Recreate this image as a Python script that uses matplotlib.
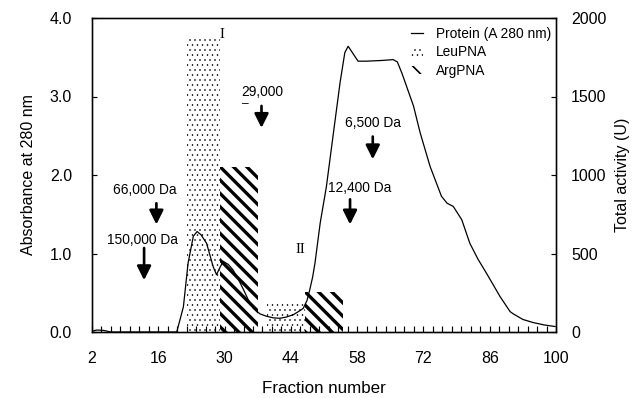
import matplotlib
matplotlib.use("Agg")
import matplotlib as mpl
import matplotlib.pyplot as plt
from matplotlib.lines import Line2D

# protein elution profile (A280)
fraction = [2, 3, 4.5, 6, 19.9, 21.3, 22.3, 23.4, 24.2, 25, 26.2, 27.6, 28.3, 29, 29.7,
            30.8, 31.8, 33, 34, 35, 36.1, 37.5, 38.9, 40.3, 41.7, 43, 44.5, 45.6, 46.6,
            47.4, 48.0, 48.6, 49.1, 50.2, 51.5, 53.0, 54.4, 55.4, 56.1, 57.2, 58.2, 60,
            63.5, 65.6, 66.5, 67.5, 69.9, 71.3, 73.4, 75.8, 77, 78.3, 80.1, 81.8, 83.5,
            85.3, 88.2, 90.3, 91, 93, 95.2, 97.5, 99.8]
absorbance = [0.01, 0.025, 0.02, 0.0, 0.0, 0.32, 0.88, 1.22, 1.28, 1.24, 1.13, 0.83, 0.73,
              0.82, 0.90, 0.86, 0.79, 0.66, 0.54, 0.41, 0.30, 0.23, 0.20, 0.18, 0.175, 0.19,
              0.22, 0.26, 0.30, 0.40, 0.54, 0.70, 0.88, 1.39, 1.85, 2.54, 3.18, 3.56, 3.64,
              3.54, 3.45, 3.45, 3.46, 3.47, 3.44, 3.29, 2.88, 2.54, 2.11, 1.73, 1.64, 1.60,
              1.43, 1.13, 0.93, 0.75, 0.45, 0.26, 0.23, 0.16, 0.12, 0.09, 0.07]

# activity pools: (start fraction, end fraction), total activity (U)
leu_ranges = [(22, 29), (39, 47)]
leu_activity = [1875, 180]
arg_ranges = [(29, 37), (47, 55)]
arg_activity = [1050, 255]

xticks = [2, 16, 30, 44, 58, 72, 86, 100]

# molecular weight markers: label, text pos, arrow x, arrow y from/to (absorbance)
markers = [
    ("150,000 Da", 12.7, 1.17, 13.0, 1.07, 0.66),
    ("66,000 Da", 13.2, 1.81, 15.6, 1.64, 1.37),
    ("29,000", 38.0, 3.06, 37.8, 2.88, 2.60),
    ("6,500 Da", 61.3, 2.66, 61.3, 2.49, 2.20),
    ("12,400 Da", 58.5, 1.83, 56.5, 1.69, 1.37),
]

DPI = 120
def pt(px):
    return px * 72.0 / DPI


def hatch_lw(artist, lw):
    # hatch line width is global in rcParams, so set it around this artist's draw
    if hasattr(artist, 'set_hatch_linewidth'):
        artist.set_hatch_linewidth(lw)
    orig = artist.draw
    def draw(renderer):
        with mpl.rc_context({'hatch.linewidth': lw}):
            orig(renderer)
    artist.draw = draw


plt.rcParams['font.family'] = ['Liberation Sans', 'DejaVu Sans']

fig = plt.figure(figsize=(641 / DPI, 398 / DPI), dpi=DPI)
ax = fig.add_axes([92 / 641, 1 - 332 / 398, (556 - 92) / 641, (332 - 18) / 398])
ax2 = ax.twinx()
ax.set_zorder(ax2.get_zorder() + 1)
ax.patch.set_visible(False)

# activity bars on the right axis
leu_bars = ax2.bar([a for a, b in leu_ranges], leu_activity,
                   width=[b - a for a, b in leu_ranges], align='edge',
                   facecolor='white', edgecolor='black', linewidth=0, hatch='....')
arg_bars = ax2.bar([a for a, b in arg_ranges], arg_activity,
                   width=[b - a for a, b in arg_ranges], align='edge',
                   facecolor='white', edgecolor='black', linewidth=0, hatch='\\\\\\')
for p in leu_bars:
    hatch_lw(p, 0.35)
for p in arg_bars:
    hatch_lw(p, 2.0)

ax.plot(fraction, absorbance, color='black', lw=0.75)

for label, tx, ty, axx, y0, y1 in markers:
    ax.text(tx, ty, label, fontsize=pt(13.8), ha='center', va='center')
    ax.annotate('', xy=(axx, y1), xytext=(axx, y0),
                arrowprops=dict(arrowstyle='-|>,head_width=0.35,head_length=0.7',
                                lw=1.6, color='black', shrinkA=0, shrinkB=0))
ax.text(34.3, 2.90, '–', fontsize=pt(12), ha='center', va='center')

ax.text(29.5, 3.79, 'I', fontsize=pt(15), family='Liberation Serif', ha='center', va='center')
ax.text(46.1, 1.05, 'II', fontsize=pt(15), family='Liberation Serif', ha='center', va='center')

ax.set_xlim(2, 100)
ax.set_ylim(0, 4)
ax2.set_ylim(0, 2000)
ax.set_xticks(xticks)
ax.set_xticks(range(2, 101, 2), minor=True)
ax.set_yticks([0, 1, 2, 3, 4])
ax.set_yticklabels(['0.0', '1.0', '2.0', '3.0', '4.0'])
ax2.set_yticks([0, 500, 1000, 1500, 2000])

ax.tick_params(axis='x', which='both', direction='in', length=pt(6), width=0.7,
               labelsize=pt(16), pad=pt(19))
ax.tick_params(axis='y', direction='in', length=pt(5), width=0.7, labelsize=pt(16), pad=pt(20))
ax2.tick_params(axis='y', direction='in', length=pt(5), width=0.7, labelsize=pt(16), pad=pt(15))

for a in (ax, ax2):
    for s in a.spines.values():
        s.set_linewidth(0.8)

ax.set_xlabel('Fraction number', fontsize=pt(17), labelpad=pt(15))
ax.set_ylabel('Absorbance at 280 nm', fontsize=pt(16), labelpad=pt(14))
ax2.set_ylabel('Total activity (U)', fontsize=pt(16), labelpad=pt(9), rotation=90)

handles = [Line2D([], [], color='black', lw=0.75),
           leu_bars[0], arg_bars[0]]
leg = ax.legend(handles, ['Protein (A 280 nm)', 'LeuPNA', 'ArgPNA'],
                loc='upper right', bbox_to_anchor=(0.995, 0.98), fontsize=pt(13.8),
                frameon=True, fancybox=False, framealpha=1, edgecolor='none',
                handlelength=0.9, handleheight=0.6, handletextpad=0.9,
                labelspacing=0.32, borderpad=0.2, borderaxespad=0)
lp = leg.get_patches()
hatch_lw(lp[0], 0.35)
hatch_lw(lp[1], 1.0)

fig.savefig('out.png', dpi=DPI)
